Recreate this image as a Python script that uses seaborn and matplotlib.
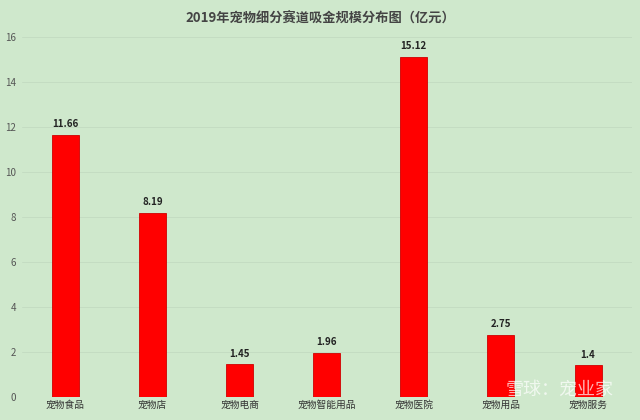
import matplotlib
matplotlib.use("Agg")
import matplotlib.pyplot as plt
import seaborn as sns
import pandas as pd

categories = ["宠物食品", "宠物店", "宠物电商", "宠物智能用品", "宠物医院", "宠物用品", "宠物服务"]
values = [11.66, 8.19, 1.45, 1.96, 15.12, 2.75, 1.4]
value_labels = ["11.66", "8.19", "1.45", "1.96", "15.12", "2.75", "1.4"]
yticks = [0, 2, 4, 6, 8, 10, 12, 14, 16]
title = "2019年宠物细分赛道吸金规模分布图（亿元）"

sns.set_theme(style="white")
plt.rcParams['font.family'] = ['Noto Sans CJK SC', 'DejaVu Sans']

bg = "#cfe8cc"
fig = plt.figure(figsize=(6.4, 4.2), dpi=100, facecolor=bg)
ax = fig.add_axes([0.034, 0.055, 0.953, 0.857])
ax.set_facecolor(bg)

df = pd.DataFrame({"cat": categories, "val": values})
sns.barplot(data=df, x="cat", y="val", color="#ff0000", width=0.31,
            saturation=1, ax=ax, edgecolor="#d00000", linewidth=0.6, zorder=3)

ax.set_ylim(0, 16)
ax.set_xlim(-0.5, 6.5)
ax.set_yticks(yticks)
ax.set_yticklabels([str(t) for t in yticks], fontsize=7, color="#555555")
ax.tick_params(axis="y", length=0, pad=4)
ax.tick_params(axis="x", length=0, pad=2, labelsize=7, labelcolor="#333333")
ax.set_xlabel("")
ax.set_ylabel("")
for t in yticks[1:]:
    ax.axhline(t, color="#c4dcc2", linewidth=0.7, zorder=1)
for s in ax.spines.values():
    s.set_visible(False)

for i, (v, lab) in enumerate(zip(values, value_labels)):
    ax.text(i, v + 0.25, lab, ha="center", va="bottom", fontsize=7,
            fontweight="bold", color="#222222")

fig.text(0.5, 0.955, title, ha="center", va="center", fontsize=9.5,
         fontweight="bold", color="#444444")
fig.text(0.875, 0.072, "雪球：宠业家", ha="center", va="center", fontsize=13,
         color="white", alpha=0.7)

fig.savefig("out.png", dpi=100, facecolor=bg)
